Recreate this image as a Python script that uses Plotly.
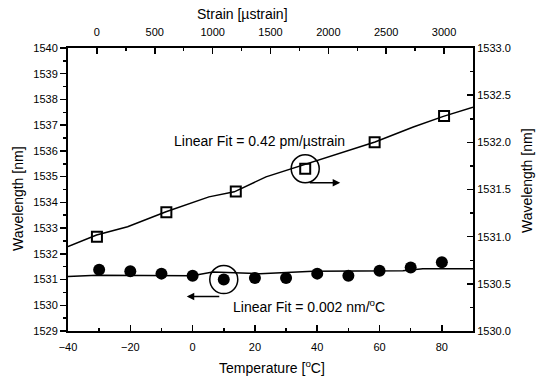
import plotly.graph_objects as go

# ---- data ----
temperature = [-30, -20, -10, 0, 10, 20, 30, 40, 50, 60, 70, 80]
wl_temperature = [1531.38, 1531.32, 1531.23, 1531.15, 1531.00, 1531.06,
                  1531.06, 1531.23, 1531.15, 1531.34, 1531.47, 1531.67]
temp_fit_x = [-40, -30.7, -0.2, 6.5, 21.6, 38.6, 67.5, 73.9, 90]
temp_fit_y = [1531.12, 1531.17, 1531.15, 1531.29, 1531.23, 1531.32, 1531.34, 1531.42, 1531.42]

strain = [0, 600, 1200, 1800, 2400, 3000]
wl_strain = [1531.00, 1531.26, 1531.48, 1531.72, 1532.00, 1532.28]
strain_fit_x = [-250, -3, 265, 597, 968, 1187, 1461, 1798, 2187, 2403, 2734, 2994, 3250]
strain_fit_y = [1530.894, 1531.018, 1531.106, 1531.264, 1531.422, 1531.475, 1531.634,
                1531.768, 1531.916, 1532.003, 1532.162, 1532.275, 1532.373]

temp_ticks = [-40, -20, 0, 20, 40, 60, 80]
strain_ticks = [0, 500, 1000, 1500, 2000, 2500, 3000]

FONT = "Arial, 'Liberation Sans', sans-serif"
W, H = 537, 385
L, R, T, B = 68, 64, 48, 54
PW, PH = W - L - R, H - T - B


def px(x):
    return (x - L) / PW


def py(y):
    return (H - B - y) / PH


fig = go.Figure()
fig.add_trace(go.Scatter(x=temp_fit_x, y=temp_fit_y, mode="lines",
                         line=dict(color="black", width=1.5), xaxis="x", yaxis="y",
                         showlegend=False, hoverinfo="skip"))
fig.add_trace(go.Scatter(x=temperature, y=wl_temperature, mode="markers",
                         marker=dict(symbol="circle", size=12, color="black"),
                         xaxis="x", yaxis="y", showlegend=False))
fig.add_trace(go.Scatter(x=strain_fit_x, y=strain_fit_y, mode="lines",
                         line=dict(color="black", width=1.5), xaxis="x2", yaxis="y2",
                         showlegend=False, hoverinfo="skip"))
fig.add_trace(go.Scatter(x=strain, y=wl_strain, mode="markers",
                         marker=dict(symbol="square-open", size=10, color="black",
                                     line=dict(width=2, color="black")),
                         xaxis="x2", yaxis="y2", showlegend=False))

axis_common = dict(showgrid=False, zeroline=False, showline=True, linecolor="black",
                   linewidth=2, tickcolor="black", tickwidth=1.5,
                   tickfont=dict(family=FONT, size=11, color="black"))

fig.update_layout(
    width=W, height=H,
    margin=dict(l=L, r=R, t=T, b=B),
    paper_bgcolor="white", plot_bgcolor="white",
    font=dict(family=FONT, color="black"),
    xaxis=dict(range=[-40, 90], tickvals=temp_ticks, ticks="inside", ticklen=6,
               ticklabelstandoff=5,
               minor=dict(dtick=10, ticks="inside", ticklen=3, tickcolor="black", tickwidth=1.5),
               **axis_common),
    yaxis=dict(range=[1529, 1540], dtick=1, ticks="outside", ticklen=6,
               minor=dict(dtick=0.5, ticks="outside", ticklen=3, tickcolor="black", tickwidth=1.5),
               **axis_common),
    xaxis2=dict(range=[-250, 3250], tickvals=strain_ticks, ticks="inside", ticklen=6,
                ticklabelstandoff=6,
                overlaying="x", side="top", anchor="y",
                minor=dict(dtick=250, tick0=0, ticks="inside", ticklen=3, tickcolor="black", tickwidth=1.5),
                **axis_common),
    yaxis2=dict(range=[1530, 1533], dtick=0.5, tickformat=".1f", ticks="inside", ticklen=6,
                overlaying="y", side="right", anchor="x",
                minor=dict(dtick=0.25, tick0=1530, ticks="inside", ticklen=3, tickcolor="black", tickwidth=1.5),
                **axis_common),
)

title_font = dict(family=FONT, size=14, color="black")
annos = [
    dict(text="Strain [µstrain]", x=px(242), y=py(14), textangle=0),
    dict(text="Temperature [<sup>o</sup>C]", x=px(271.7), y=py(367), textangle=0),
    dict(text="Wavelength [nm]", x=px(18), y=py(199), textangle=-90),
    dict(text="Wavelength [nm]", x=px(527), y=py(181), textangle=-90),
    dict(text="Linear Fit = 0.42 pm/µstrain", x=px(259), y=py(141), textangle=0),
    dict(text="Linear Fit = 0.002 nm/<sup>o</sup>C", x=px(308.5), y=py(305.7), textangle=0),
]
for a in annos:
    fig.add_annotation(xref="paper", yref="paper", showarrow=False,
                       xanchor="center", yanchor="middle", font=title_font, **a)

# highlight circles around one point of each series
fig.add_shape(type="circle", xref="x2", yref="y2", xsizemode="pixel", ysizemode="pixel",
              xanchor=strain[3], yanchor=wl_strain[3], x0=-14, x1=14, y0=-14, y1=14,
              line=dict(color="black", width=1.5))
fig.add_shape(type="circle", xref="x", yref="y", xsizemode="pixel", ysizemode="pixel",
              xanchor=temperature[4], yanchor=wl_temperature[4], x0=-14, x1=14, y0=-14, y1=14,
              line=dict(color="black", width=1.5))

# arrows pointing to the relevant axis
fig.add_annotation(xref="x2", yref="y2", x=strain[3], y=wl_strain[3], text="",
                   showarrow=True, arrowhead=2, arrowsize=1, arrowwidth=1.5, arrowcolor="black",
                   axref="pixel", ayref="pixel", ax=-32, ay=0, xshift=35, yshift=-14)
fig.add_annotation(xref="x", yref="y", x=temperature[4], y=wl_temperature[4], text="",
                   showarrow=True, arrowhead=2, arrowsize=1, arrowwidth=1.5, arrowcolor="black",
                   axref="pixel", ayref="pixel", ax=34, ay=0, xshift=-37, yshift=-17)

fig.write_html("out.html", config={"displayModeBar": False, "staticPlot": True},
               post_script="document.body.style.margin='0';document.body.style.padding='0';")
